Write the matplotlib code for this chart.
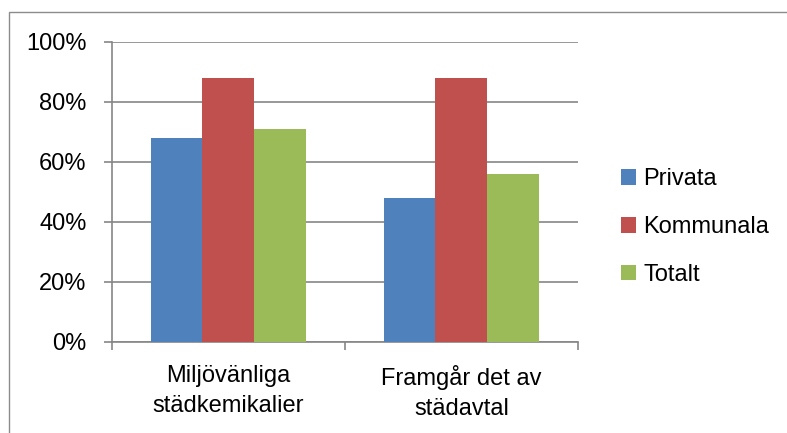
import matplotlib.pyplot as plt
import numpy as np
from matplotlib.patches import Rectangle
from matplotlib.ticker import PercentFormatter

plt.rcParams['font.family'] = ['Liberation Sans', 'DejaVu Sans']
plt.rcParams['font.size'] = 17

# data
categories = ["Miljövänliga\nstädkemikalier", "Framgår det av\nstädavtal"]
series = ["Privata", "Kommunala", "Totalt"]
privata = [68, 48]
kommunala = [88, 88]
totalt = [71, 56]
colors = ['#4F81BD', '#C0504D', '#9BBB59']

fig = plt.figure(figsize=(7.87, 4.33), dpi=100)
ax = fig.add_axes([0.1419, 0.2109, 0.5925, 0.6928])

x = np.arange(len(categories))
w = 2 / 9
for i, (vals, name) in enumerate(zip([privata, kommunala, totalt], series)):
    ax.bar(x + (i - 1) * w, vals, width=w, color=colors[i], label=name, zorder=3)

ax.set_xlim(-0.5, 1.5)
ax.set_ylim(0, 100)
ax.set_yticks(np.arange(0, 101, 20))
ax.yaxis.set_major_formatter(PercentFormatter(decimals=0))
ax.grid(axis='y', color='#868686', linewidth=1.2, zorder=0)
ax.set_axisbelow(True)

for s in ['top', 'right']:
    ax.spines[s].set_visible(False)
for s in ['left', 'bottom']:
    ax.spines[s].set_color('#868686')
    ax.spines[s].set_linewidth(1.2)

ax.set_xticks([-0.5, 0.5, 1.5])
ax.set_xticklabels([])
ax.set_xticks(x, categories, minor=True)
ax.tick_params(axis='x', which='major', length=6, width=1.2, color='#868686')
ax.tick_params(axis='x', which='minor', length=0, pad=17)
ax.tick_params(axis='y', length=6, width=1.2, color='#868686', pad=12)
for t in ax.get_xticklabels(minor=True):
    t.set_linespacing(1.45)

fig.legend(loc='center left', bbox_to_anchor=(621 / 787, 1 - 227 / 433),
           frameon=False, borderpad=0, borderaxespad=0,
           handlelength=0.64, handleheight=0.64, handletextpad=0.3,
           labelspacing=1.1)

# outer chart border
fig.patches.append(Rectangle((9 / 787, -0.1), 1.2, 1.1 - 12.5 / 433,
                             transform=fig.transFigure, fill=False,
                             edgecolor='#8c8c8c', linewidth=1.0))

fig.savefig('out.png', dpi=100)
